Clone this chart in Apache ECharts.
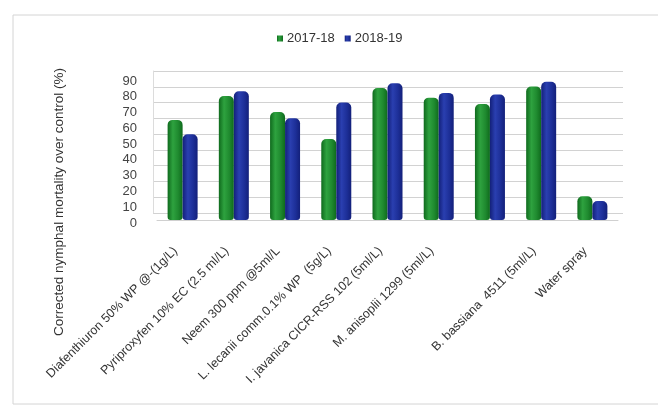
<!DOCTYPE html>
<html>
<head>
<meta charset="utf-8">
<script src="https://cdn.jsdelivr.net/npm/echarts@6/dist/echarts.min.js"></script>
<style>
  html, body { margin: 0; padding: 0; background: #fff; }
  #chart { width: 658px; height: 406px; }
</style>
</head>
<body>
<div id="chart"></div>
<script>
// Treatments (the seventh group carries no printed label)
const categories = [
  'Diafenthiuron 50% WP @-(1g/L)',
  'Pyriproxyfen 10% EC (2.5 ml/L)',
  'Neem 300 ppm @5ml/L',
  'L. lecanii comm.0.1% WP  (5g/L)',
  'I. javanica CICR-RSS 102 (5ml/L)',
  'M. anisoplii 1299 (5ml/L)',
  '',
  'B. bassiana  4511 (5ml/L)',
  'Water spray'
];
const seasonNames = ['2017-18', '2018-19'];
const mortality201718 = [63, 78, 68, 51, 83, 77, 73, 84, 15];
const mortality201819 = [54, 81, 64, 74, 86, 80, 79, 87, 12];
const yTicks = { min: 0, max: 90, interval: 10 };
const yTitle = 'Corrected nymphal mortality over control (%)';

const FONT = '"Liberation Sans", Arial, sans-serif';

function cylinder(dark, mid, light) {
  return new echarts.graphic.LinearGradient(0, 0, 1, 0, [
    { offset: 0, color: dark },
    { offset: 0.35, color: light },
    { offset: 0.7, color: mid },
    { offset: 1, color: dark }
  ]);
}
const greenFill = cylinder('#0f6a1d', '#1f8a2f', '#2ea23f');
const blueFill = cylinder('#13207a', '#1d2f98', '#2a3fb0');

const chart = echarts.init(document.getElementById('chart'), null, { renderer: 'canvas' });

chart.setOption({
  backgroundColor: '#ffffff',
  animation: false,
  graphic: [
    {
      type: 'rect',
      shape: { x: 13, y: 15, width: 660, height: 389 },
      style: { fill: 'none', stroke: '#d4d4d4', lineWidth: 1 },
      silent: true,
      z: -10
    },
    {
      type: 'text',
      x: 59,
      y: 202,
      rotation: Math.PI / 2,
      style: {
        text: yTitle,
        fontFamily: FONT,
        fontSize: 13.5,
        fill: '#333',
        align: 'center',
        verticalAlign: 'middle'
      },
      silent: true
    }
  ],
  legend: {
    data: seasonNames,
    left: 272,
    top: 27,
    itemWidth: 6,
    itemHeight: 6,
    itemGap: 10,
    icon: 'rect',
    textStyle: { fontFamily: FONT, fontSize: 13, color: '#333', padding: [0, 0, 0, -1] }
  },
  grid: [
    // front plane: bars and category labels
    { left: 157, right: 40, top: 77, bottom: 186 },
    // back wall: gridlines
    { left: 153, right: 35, top: 71, bottom: 193 },
    // tick label column, sitting a little below the front plane
    { left: 157, right: 40, top: 81, bottom: 183 }
  ],
  xAxis: [
    {
      type: 'category',
      gridIndex: 0,
      data: categories,
      axisTick: { show: false },
      axisLine: { show: true, lineStyle: { color: '#d0d0d0', width: 1 } },
      axisLabel: {
        interval: 0,
        rotate: 45,
        margin: 22,
        padding: [0, 10, 0, 0],
        fontFamily: FONT,
        fontSize: 12.5,
        color: '#333'
      }
    },
    { type: 'value', gridIndex: 1, min: 0, max: 1, show: false },
    { type: 'value', gridIndex: 2, min: 0, max: 1, show: false }
  ],
  yAxis: [
    {
      type: 'value',
      gridIndex: 0,
      min: yTicks.min,
      max: yTicks.max,
      interval: yTicks.interval,
      show: false
    },
    {
      type: 'value',
      gridIndex: 1,
      min: yTicks.min,
      max: yTicks.max,
      interval: yTicks.interval,
      axisLabel: { show: false },
      axisTick: { show: false },
      axisLine: { show: true, lineStyle: { color: '#dcdcdc' } },
      splitLine: { show: true, lineStyle: { color: '#d2d2d2', width: 1 } }
    },
    {
      type: 'value',
      gridIndex: 2,
      min: yTicks.min,
      max: yTicks.max,
      interval: yTicks.interval,
      axisLine: { show: false },
      axisTick: { show: false },
      splitLine: { show: false },
      axisLabel: {
        margin: 20,
        fontFamily: FONT,
        fontSize: 13,
        color: '#444'
      }
    }
  ],
  series: [
    {
      name: seasonNames[0],
      type: 'bar',
      xAxisIndex: 0,
      yAxisIndex: 0,
      data: mortality201718,
      barWidth: 15,
      barGap: '0%',
      itemStyle: { color: greenFill, borderRadius: [5, 5, 3, 3] }
    },
    {
      name: seasonNames[1],
      type: 'bar',
      xAxisIndex: 0,
      yAxisIndex: 0,
      data: mortality201819,
      barWidth: 15,
      barGap: '0%',
      itemStyle: { color: blueFill, borderRadius: [5, 5, 3, 3] }
    }
  ],
  color: ['#1f8a2f', '#1d2f98']
});
</script>
</body>
</html>
